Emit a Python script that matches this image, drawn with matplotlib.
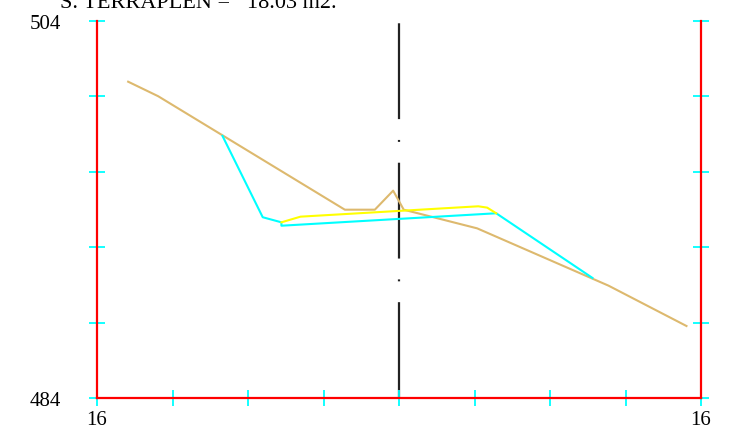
import matplotlib

matplotlib.use("Agg")
import matplotlib.pyplot as plt

# cross-section: offset from axis (m) vs elevation (m)
terrain_x = [-14.35, -12.76, -2.87, -1.28, -0.31, 0.25, 4.14, 11.1, 15.23]
terrain_y = [500.78, 500.01, 493.99, 493.99, 495.0, 493.99, 493.0, 489.96, 487.82]

subgrade_x = [-9.35, -7.22, -6.23, -6.23, 5.15, 10.25]
subgrade_y = [497.9, 493.59, 493.32, 493.14, 493.80, 490.37]

pavement_x = [-6.23, -5.22, 4.20, 4.67, 5.15]
pavement_y = [493.32, 493.62, 494.17, 494.10, 493.80]

x_ticks = [-16, -12, -8, -4, 0, 4, 8, 12, 16]
x_labels = ["16", "", "", "", "", "", "", "", "16"]
y_ticks = [484, 488, 492, 496, 500, 504]
y_labels = ["484", "", "", "", "", "504"]

title = "S. TERRAPLEN =   18.03 m2."

plt.rcParams["font.family"] = ["Liberation Serif", "DejaVu Serif"]
plt.rcParams["lines.scale_dashes"] = False

W, H = 731, 435
fig = plt.figure(figsize=(W / 100, H / 100), dpi=100)
ax = fig.add_axes([97 / W, 1 - 399 / H, 604 / W, 377 / H])
ax.set_xlim(x_ticks[0], x_ticks[-1])
ax.set_ylim(y_ticks[0], y_ticks[-1])

# centre line (dash-dot)
ax.plot([0, 0], [y_ticks[0], y_ticks[-1]], color="#222222", lw=1.6,
        dashes=(69, 15, 1.4, 15), solid_capstyle="butt", dash_capstyle="butt", zorder=1)

ax.plot(terrain_x, terrain_y, color="#DDB96E", lw=1.5, zorder=2)
ax.plot(subgrade_x, subgrade_y, color="#00FFFF", lw=1.5, zorder=3)
ax.plot(pavement_x, pavement_y, color="#FFFF00", lw=1.5, zorder=3)

for s in ["left", "right", "bottom"]:
    ax.spines[s].set_color("#FF0000")
    ax.spines[s].set_linewidth(1.6)
    ax.spines[s].set_zorder(4)
ax.spines["top"].set_visible(False)

ax.set_xticks(x_ticks, x_labels)
ax.set_yticks(y_ticks, y_labels)
ax.tick_params(axis="both", direction="inout", length=11.5, width=1.3,
               color="#00FFFF", labelsize=15)
ax.tick_params(axis="y", right=True, pad=20)
ax.tick_params(axis="x", pad=3)
for t in ax.get_xticklines() + ax.get_yticklines():
    t.set_zorder(5)

fig.text(60 / W, 1 - 8 / H, title, fontsize=16, ha="left", va="baseline")

fig.savefig("out.png", dpi=100)
